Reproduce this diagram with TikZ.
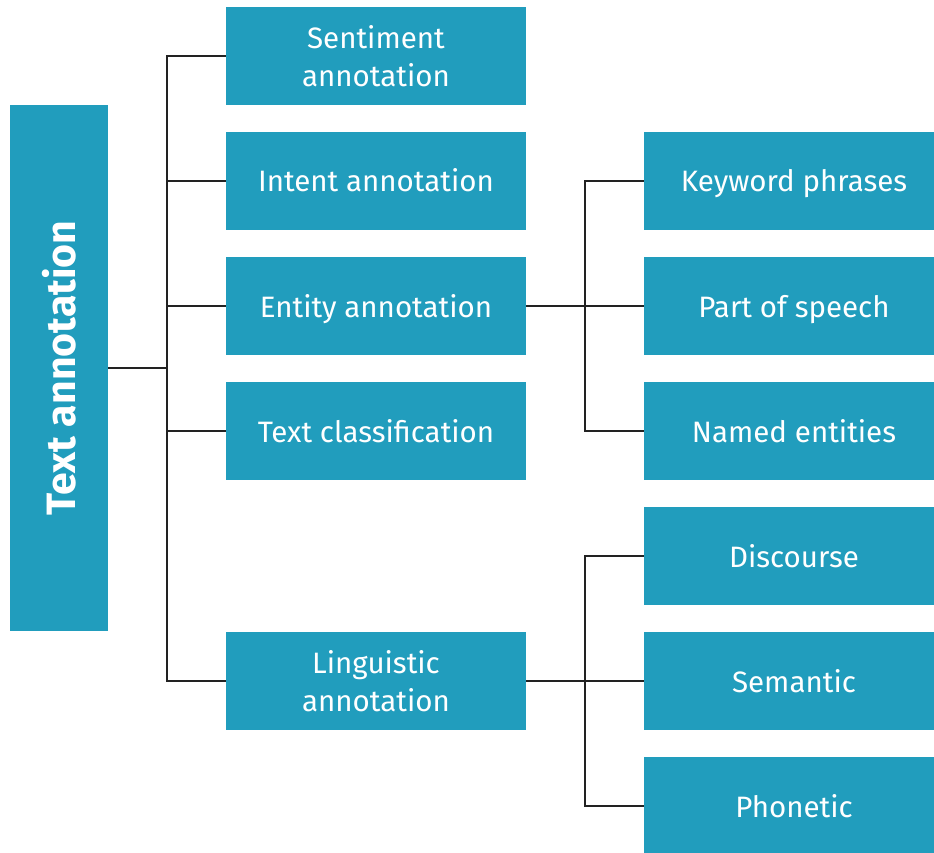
\documentclass[tikz,border=0pt]{standalone}
\usepackage{fontspec}
\setmainfont{Fira Sans}
\definecolor{boxblue}{HTML}{219DBD}
\definecolor{linecol}{HTML}{222222}
\tikzset{
  box/.style={fill=boxblue, draw=none, text=white, inner sep=0pt, align=center,
    font=\fontsize{29.5}{38}\selectfont\fontseries{l}\selectfont},
  midbox/.style={box, minimum width=300pt, minimum height=98pt},
  oneline/.style={text height=22pt, text depth=0pt},
  rightbox/.style={box, oneline, minimum width=300pt, minimum height=98pt},
  conn/.style={draw=linecol, line width=2pt}
}
\begin{document}
\begin{tikzpicture}[x=1pt,y=-1pt]
\useasboundingbox (0,0) rectangle (934,853);
\node[box, minimum width=98pt, minimum height=526pt, font=\fontsize{41}{44}\selectfont\bfseries] (root) at (59,368) {\rotatebox{90}{Text annotation}};
\node[midbox] (sent) at (376,56) {Sentiment\\annotation};
\node[midbox, oneline] (intent) at (376,181) {Intent annotation};
\node[midbox, oneline] (entity) at (376,306) {Entity annotation};
\node[midbox, oneline] (tclass) at (376,431) {Text classification};
\node[midbox] (ling) at (376,681) {Linguistic\\annotation};
\node[rightbox] (kw) at (794,181) {Keyword phrases};
\node[rightbox] (pos) at (794,306) {Part of speech};
\node[rightbox] (ne) at (794,431) {Named entities};
\node[rightbox] (disc) at (794,556) {Discourse};
\node[rightbox] (sem) at (794,681) {Semantic};
\node[rightbox] (phon) at (794,806) {Phonetic};
\coordinate (j1) at (167,368);
\coordinate (j2) at (585,306);
\coordinate (j3) at (585,681);
\draw[conn] (root.east) -- (j1);
\draw[conn] (sent.west) -| (j1);
\draw[conn] (ling.west) -| (j1);
\draw[conn] (intent.west) -- (intent.west -| j1);
\draw[conn] (entity.west) -- (entity.west -| j1);
\draw[conn] (tclass.west) -- (tclass.west -| j1);
\draw[conn] (entity.east) -- (pos.west);
\draw[conn] (kw.west) -| (j2);
\draw[conn] (ne.west) -| (j2);
\draw[conn] (ling.east) -- (sem.west);
\draw[conn] (disc.west) -| (j3);
\draw[conn] (phon.west) -| (j3);
\end{tikzpicture}
\end{document}
